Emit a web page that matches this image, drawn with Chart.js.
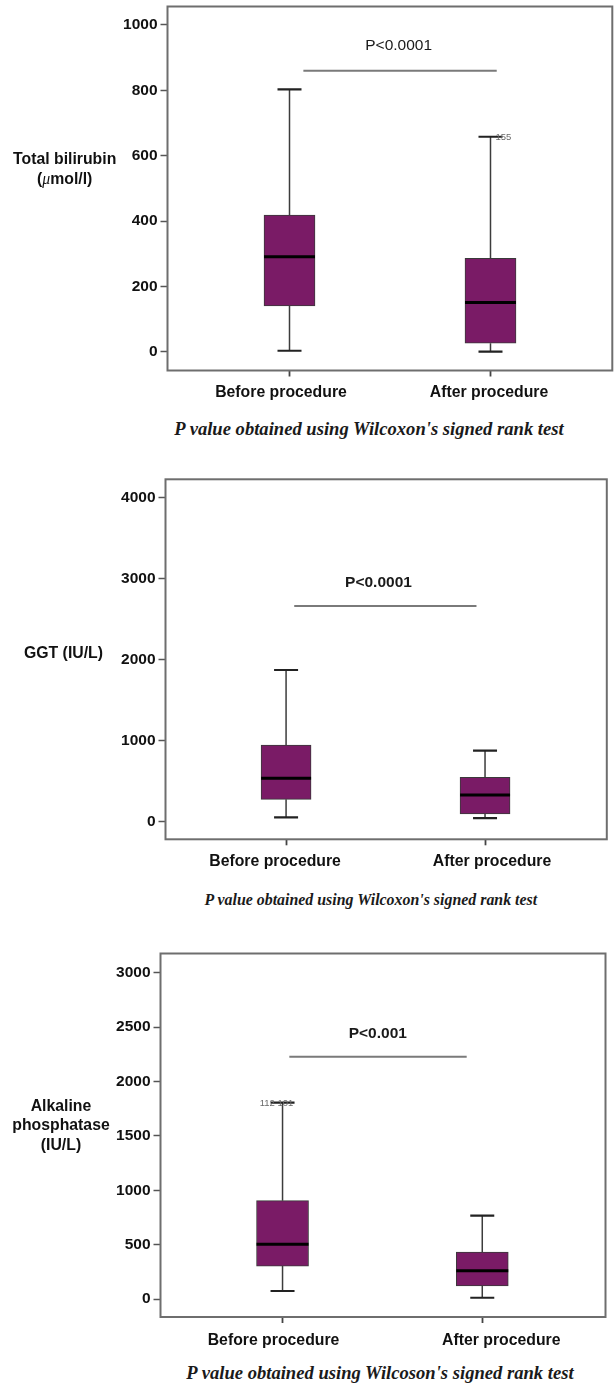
<!DOCTYPE html>
<html><head><meta charset="utf-8">
<script src="https://cdn.jsdelivr.net/npm/chart.js@4.4.1/dist/chart.umd.min.js"></script>
<style>
body{margin:0;background:#fff;}
#page{position:relative;width:615px;height:1385px;overflow:hidden;background:#fff;}
canvas{position:absolute;left:0;}
.lab{position:absolute;transform:translate(-50%,-50%);font:bold 15.8px "Liberation Sans",Arial,sans-serif;color:#111;white-space:nowrap;text-align:center;}
.cap{position:absolute;transform:translate(-50%,-50%);font:italic bold 18.6px "Liberation Serif","Times New Roman",serif;color:#1a1a1a;white-space:nowrap;}
</style></head><body><div id="page">
<canvas id="c1" width="615" height="410" style="top:0px"></canvas>
<canvas id="c2" width="615" height="410" style="top:470px"></canvas>
<canvas id="c3" width="615" height="410" style="top:945px"></canvas>
<div class="lab" style="left:64.7px;top:169.3px;line-height:20px">Total bilirubin<br>(<i style="font-family:'Liberation Serif',serif;font-weight:normal">μ</i>mol/l)</div>
<div class="lab" style="left:63.5px;top:653.3px">GGT (IU/L)</div>
<div class="lab" style="left:61px;top:1125px;line-height:19.3px">Alkaline<br>phosphatase<br>(IU/L)</div>
<div class="cap" style="left:369px;top:429px">P value obtained using Wilcoxon's signed rank test</div>
<div class="cap" style="left:370.8px;top:900px;font-size:15.9px">P value obtained using Wilcoxon's signed rank test</div>
<div class="cap" style="left:380px;top:1373.3px">P value obtained using Wilcoson's signed rank test</div>
</div>
<script>
// ---- data ----
const categories = ['Before procedure', 'After procedure'];

// Total bilirubin (µmol/l)
const biliMin    = [3, 0];
const biliQ1     = [140, 26];
const biliMedian = [291, 151];
const biliQ3     = [418, 286];
const biliMax    = [803, 658];
const biliTicks  = [0, 200, 400, 600, 800, 1000];
const biliOutlierLabels = ['', '155'];

// GGT (IU/L)
const ggtMin    = [54, 45];
const ggtQ1     = [276, 95];
const ggtMedian = [536, 330];
const ggtQ3     = [947, 548];
const ggtMax    = [1873, 877];
const ggtTicks  = [0, 1000, 2000, 3000, 4000];
const ggtOutlierLabels = ['', ''];

// Alkaline phosphatase (IU/L)
const alpMin    = [74, 12];
const alpQ1     = [303, 120];
const alpMedian = [503, 260];
const alpQ3     = [904, 432];
const alpMax    = [1805, 766];
const alpTicks  = [0, 500, 1000, 1500, 2000, 2500, 3000];
const alpOutlierLabels = ['112 101', ''];

const pTexts = ['P<0.0001', 'P<0.0001', 'P<0.001'];

// ---- drawing ----
const FONT = '"Liberation Sans", Arial, sans-serif';
const PURPLE = '#7a1b66';

const boxPlugin = {
  id: 'boxExtras',
  beforeDatasetsDraw(chart, args, o) {
    const {ctx, scales:{x, y}} = chart;
    ctx.save();
    for (let i = 0; i < o.mins.length; i++) {
      const px = x.getPixelForValue(i + 1);
      ctx.strokeStyle = '#3c3c3c'; ctx.lineWidth = 1.5;
      ctx.beginPath();
      ctx.moveTo(px, y.getPixelForValue(o.q3[i])); ctx.lineTo(px, y.getPixelForValue(o.maxs[i]));
      ctx.moveTo(px, y.getPixelForValue(o.q1[i])); ctx.lineTo(px, y.getPixelForValue(o.mins[i]));
      ctx.stroke();
      ctx.strokeStyle = '#222'; ctx.lineWidth = 2.2;
      ctx.beginPath();
      [o.maxs[i], o.mins[i]].forEach(v => {
        const py = y.getPixelForValue(v);
        ctx.moveTo(px - o.capW / 2, py); ctx.lineTo(px + o.capW / 2, py);
      });
      ctx.stroke();
    }
    ctx.restore();
  },
  afterDatasetsDraw(chart, args, o) {
    const {ctx, scales:{x, y}} = chart;
    ctx.save();
    ctx.strokeStyle = '#000'; ctx.lineWidth = 3;
    for (let i = 0; i < o.medians.length; i++) {
      const px = x.getPixelForValue(i + 1), py = y.getPixelForValue(o.medians[i]);
      ctx.beginPath(); ctx.moveTo(px - o.boxW / 2, py); ctx.lineTo(px + o.boxW / 2, py); ctx.stroke();
    }
    // outlier case labels
    ctx.fillStyle = '#6a6a6a'; ctx.font = '9.5px ' + FONT; ctx.textBaseline = 'middle';
    o.outliers.forEach((t, i) => {
      if (!t) return;
      const px = x.getPixelForValue(i + 1), py = y.getPixelForValue(o.maxs[i]);
      if (i === 1) { ctx.textAlign = 'left'; ctx.fillText(t, px + 5, py + 1); }
      else { ctx.textAlign = 'center'; ctx.fillText(t, px - 6, py + 1); }
    });
    ctx.restore();
  },
  afterDraw(chart, args, o) {
    const {ctx, chartArea:a, scales:{x, y}} = chart;
    ctx.save();
    ctx.strokeStyle = '#6e6e6e'; ctx.lineWidth = 2;
    ctx.strokeRect(a.left, a.top, a.right - a.left, a.bottom - a.top);
    // significance line
    ctx.strokeStyle = '#7a7a7a'; ctx.lineWidth = 2;
    const ly = y.getPixelForValue(o.pLine.y);
    ctx.beginPath(); ctx.moveTo(x.getPixelForValue(o.pLine.x1), ly); ctx.lineTo(x.getPixelForValue(o.pLine.x2), ly); ctx.stroke();
    ctx.fillStyle = '#1a1a1a';
    ctx.font = (o.pBold ? 'bold ' : '') + '15.5px ' + FONT;
    ctx.textAlign = 'center'; ctx.textBaseline = 'middle';
    ctx.fillText(o.pText, x.getPixelForValue(o.pLine.tx), y.getPixelForValue(o.pLine.ty));
    // category labels under the x-axis ticks
    ctx.fillStyle = '#111';
    ctx.font = 'bold 15.8px ' + FONT;
    categories.forEach((c, i) => {
      ctx.fillText(c, x.getPixelForValue(i + 1) + o.labelDx[i], a.bottom + o.labelDy);
    });
    ctx.restore();
  }
};

function makeChart(id, s, lay) {
  const canvasH = 410;
  const data = s.q1.map((v, i) => ({x: i + 1, y: [v, s.q3[i]]}));
  return new Chart(document.getElementById(id), {
    type: 'bar',
    data: { datasets: [{ data, backgroundColor: PURPLE, borderColor: '#3a3a3a', borderWidth: 1,
      borderSkipped: false, barThickness: lay.boxW }] },
    plugins: [boxPlugin],
    options: {
      responsive: false, animation: false, devicePixelRatio: 1,
      layout: { padding: { left: 0, top: lay.T - lay.top, right: 615 - lay.R, bottom: 0 } },
      plugins: {
        legend: { display: false }, tooltip: { enabled: false },
        boxExtras: { mins: s.min, q1: s.q1, medians: s.med, q3: s.q3, maxs: s.max,
          outliers: s.outliers, boxW: lay.boxW, capW: 24, pText: s.pText, pBold: lay.pBold, pLine: lay.pLine,
          labelDx: lay.labelDx, labelDy: lay.labelDy }
      },
      scales: {
        x: {
          type: 'linear', min: lay.xMin, max: lay.xMax, offset: false, bounds: 'data',
          afterDataLimits: sc => { sc.min = lay.xMin; sc.max = lay.xMax; },
          afterBuildTicks: sc => { sc.ticks = categories.map((c, i) => ({value: i + 1})); },
          afterFit: sc => { sc.height = (lay.top + canvasH) - lay.B; sc.paddingLeft = 0; sc.paddingRight = 0; },
          ticks: { display: false, callback: (v, i) => categories[i], autoSkip: false, maxRotation: 0, minRotation: 0 },
          grid: { display: true, offset: false, drawOnChartArea: false, drawTicks: true, tickLength: 6, tickColor: '#444', tickWidth: 1.8 },
          border: { display: false }
        },
        y: {
          type: 'linear', min: lay.yMin, max: lay.yMax,
          afterBuildTicks: sc => { sc.ticks = s.ticks.map(v => ({value: v})); },
          afterFit: sc => { sc.width = lay.L; sc.paddingTop = 0; sc.paddingBottom = 0; },
          ticks: { callback: v => String(v), padding: 3, color: '#111', font: { family: FONT, size: 15.5, weight: 'bold' } },
          grid: { display: true, drawOnChartArea: false, drawTicks: true, tickLength: 7, tickColor: '#555', tickWidth: 1.5 },
          border: { display: false }
        }
      }
    }
  });
}

makeChart('c1',
  { min: biliMin, q1: biliQ1, med: biliMedian, q3: biliQ3, max: biliMax, ticks: biliTicks, outliers: biliOutlierLabels, pText: pTexts[0] },
  { top: 0, L: 167.5, R: 612.3, T: 6.5, B: 370.5, yMin: -57.5, yMax: 1056.6, xMin: 0.393, xMax: 2.606,
    boxW: 51, pBold: false, labelDx: [-8.5, -1.5], labelDy: 21.8,
    pLine: { x1: 1.069, x2: 2.031, y: 860, tx: 1.543, ty: 937 } });

makeChart('c2',
  { min: ggtMin, q1: ggtQ1, med: ggtMedian, q3: ggtQ3, max: ggtMax, ticks: ggtTicks, outliers: ggtOutlierLabels, pText: pTexts[1] },
  { top: 470, L: 165.5, R: 606.8, T: 479.3, B: 839.3, yMin: -217, yMax: 4227, xMin: 0.394, xMax: 2.612,
    boxW: 50, pBold: true, labelDx: [-11, 7], labelDy: 22.4,
    pLine: { x1: 1.041, x2: 1.957, y: 2663, tx: 1.4645, ty: 2951 } });

makeChart('c3',
  { min: alpMin, q1: alpQ1, med: alpMedian, q3: alpQ3, max: alpMax, ticks: alpTicks, outliers: alpOutlierLabels, pText: pTexts[2] },
  { top: 945, L: 160.5, R: 605.5, T: 953.5, B: 1317, yMin: -165, yMax: 3176, xMin: 0.389, xMax: 2.617,
    boxW: 52, pBold: true, labelDx: [-9, 19], labelDy: 23.7,
    pLine: { x1: 1.034, x2: 1.922, y: 2228, tx: 1.477, ty: 2436 } });
</script>
</body></html>
